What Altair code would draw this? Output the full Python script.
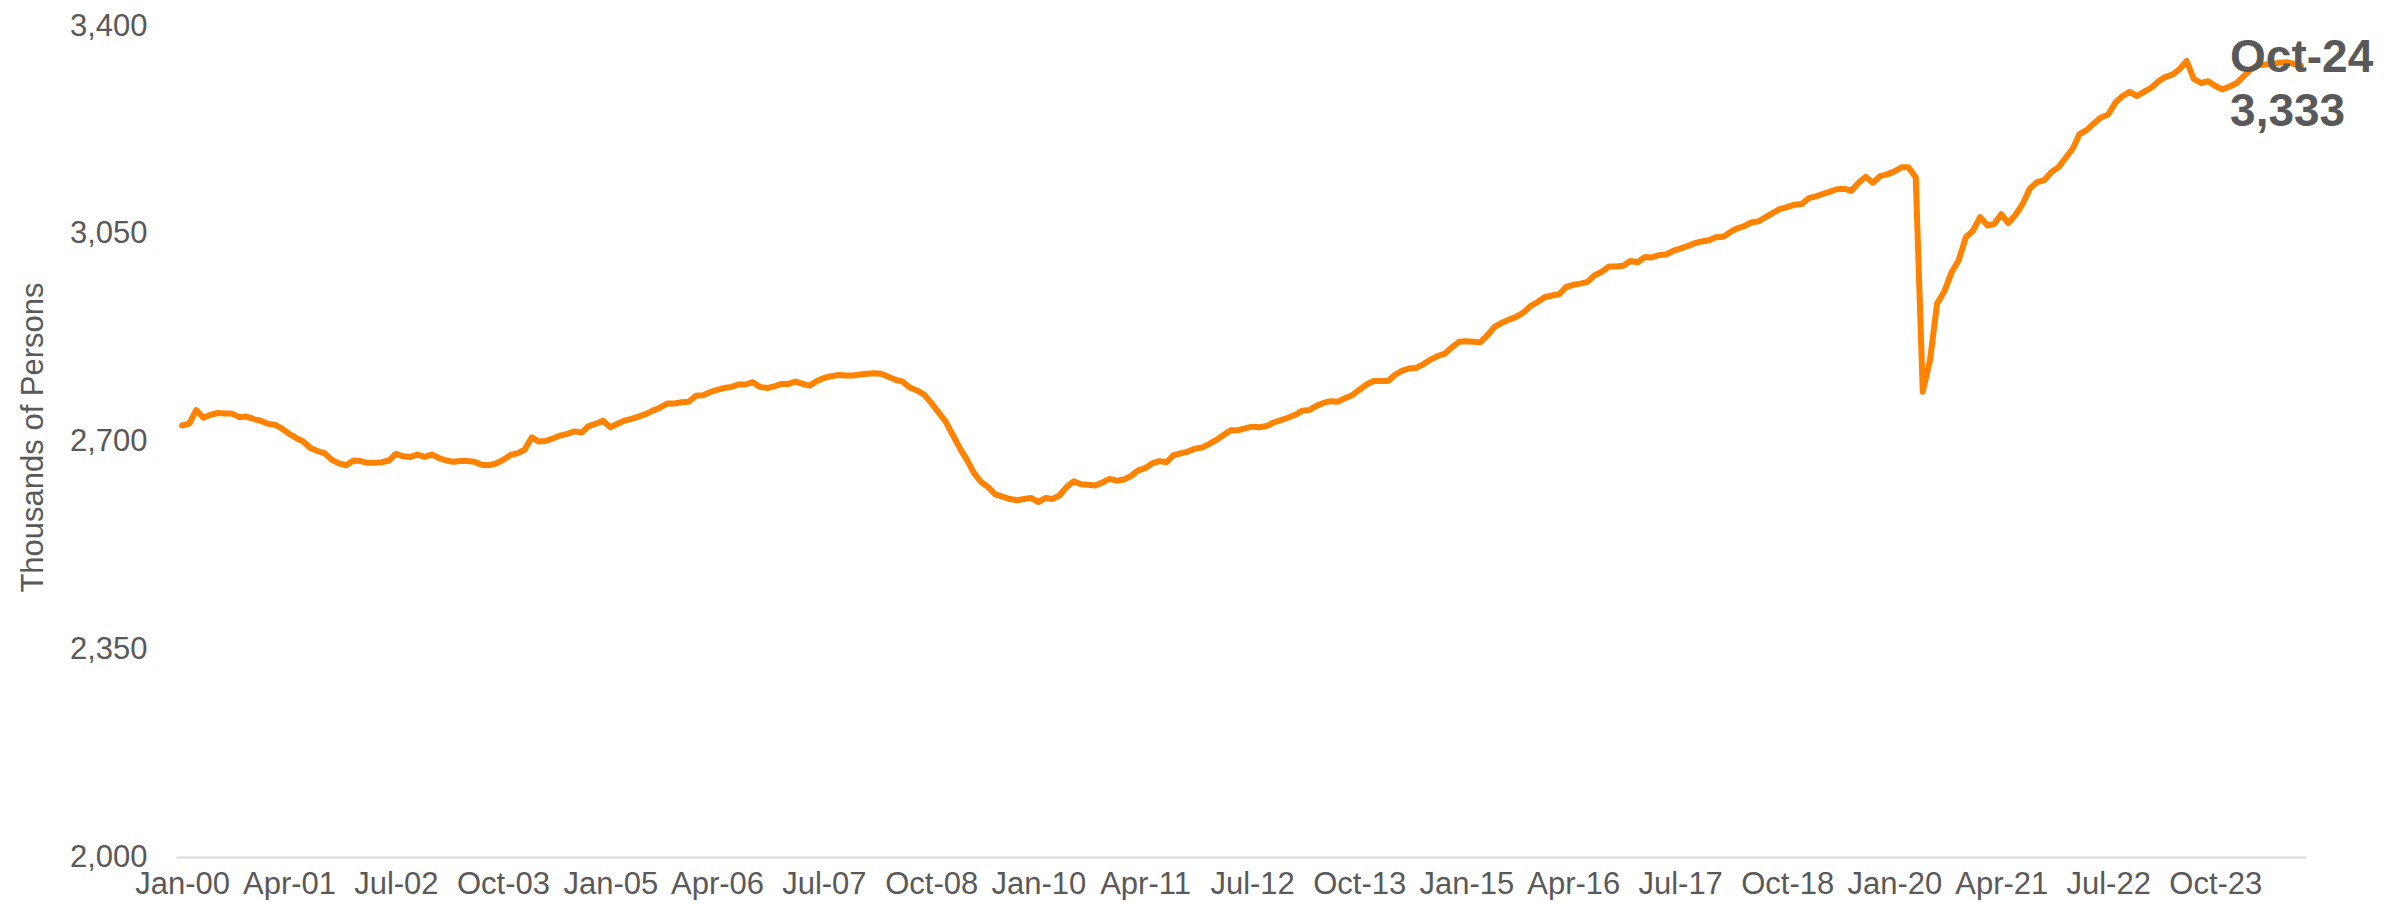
import altair as alt
import pandas as pd

# Monthly values (thousands of persons), Jan-2000 .. Oct-2024
values = [
    2727, 2730, 2753, 2740, 2745, 2748, 2747, 2747, 2741, 2742, 2738, 2735,   # 2000
    2730, 2728, 2722, 2713, 2706, 2700, 2689, 2684, 2680, 2669, 2663, 2660,   # 2001
    2668, 2667, 2664, 2664, 2665, 2668, 2679, 2675, 2674, 2678, 2674, 2678,   # 2002
    2672, 2668, 2666, 2667, 2667, 2666, 2661, 2660, 2663, 2669, 2677, 2680,   # 2003
    2686, 2707, 2700, 2701, 2705, 2710, 2713, 2717, 2715, 2726, 2730, 2735,   # 2004
    2724, 2730, 2735, 2738, 2742, 2746, 2752, 2757, 2764, 2764, 2766, 2767,   # 2005
    2777, 2778, 2783, 2787, 2790, 2792, 2796, 2796, 2800, 2792, 2790, 2793,   # 2006
    2797, 2797, 2801, 2797, 2794, 2802, 2807, 2810, 2812, 2811, 2811, 2813,   # 2007
    2814, 2815, 2814, 2809, 2804, 2801, 2791, 2786, 2779, 2765, 2749, 2734,   # 2008
    2711, 2688, 2670, 2647, 2632, 2623, 2611, 2607, 2603, 2601, 2603, 2605,   # 2009
    2598, 2605, 2603, 2609, 2623, 2633, 2628, 2627, 2626, 2631, 2637, 2634,   # 2010
    2636, 2642, 2651, 2655, 2663, 2667, 2665, 2677, 2680, 2683, 2688, 2690,   # 2011
    2696, 2703, 2711, 2719, 2719, 2722, 2725, 2724, 2726, 2732, 2736, 2740,   # 2012
    2745, 2752, 2753, 2760, 2765, 2768, 2767, 2773, 2778, 2787, 2796, 2802,   # 2013
    2802, 2802, 2812, 2819, 2823, 2824, 2830, 2838, 2844, 2848, 2859, 2868,   # 2014
    2869, 2868, 2867, 2879, 2893, 2900, 2905, 2910, 2917, 2928, 2935, 2943,   # 2015
    2946, 2948, 2960, 2964, 2966, 2969, 2980, 2986, 2995, 2995, 2996, 3004,   # 2016
    3002, 3011, 3010, 3014, 3015, 3021, 3025, 3029, 3034, 3037, 3039, 3044,   # 2017
    3045, 3053, 3059, 3063, 3069, 3071, 3078, 3085, 3092, 3095, 3099, 3100,   # 2018
    3110, 3113, 3117, 3121, 3125, 3126, 3122, 3136, 3146, 3136, 3147, 3150,   # 2019
    3155, 3162, 3162, 3145, 2784, 2837, 2932, 2953, 2985, 3005, 3044, 3055,   # 2020
    3078, 3064, 3066, 3083, 3068, 3082, 3100, 3126, 3137, 3140, 3154, 3162,   # 2021
    3178, 3194, 3218, 3225, 3236, 3246, 3251, 3271, 3282, 3289, 3282, 3289,   # 2022
    3296, 3307, 3314, 3318, 3327, 3341, 3311, 3304, 3307, 3299, 3293, 3298,   # 2023
    3304, 3316, 3327, 3334, 3335, 3336, 3338, 3339, 3336, 3333,               # 2024
]
start_month = "2000-01-01"
dates = pd.date_range(start_month, periods=len(values), freq="MS")

tick_dates = list(pd.date_range(start_month, periods=20, freq="15MS"))
y_ticks = [2000, 2350, 2700, 3050, 3400]
y_title = "Thousands of Persons"

df = pd.DataFrame({"date": dates, "value": values})
last = df.tail(1)

FONT = "Liberation Sans"
GREY = "#595959"
ORANGE = "#FF8200"

x_scale = alt.Scale(domain=["1999-12-06", "2024-10-22"], nice=False)
y_scale = alt.Scale(domain=[2000, 3400], nice=False, zero=False)

line = alt.Chart(df).mark_line(
    color=ORANGE, strokeWidth=6, strokeJoin="round", strokeCap="round"
).encode(
    x=alt.X(
        "date:T",
        scale=x_scale,
        axis=alt.Axis(
            values=[d.strftime("%Y-%m-%d") for d in tick_dates],
            format="%b-%y",
            title=None,
            grid=False,
            ticks=False,
            tickSize=0,
            domain=True,
            domainColor="#d9d9d9",
            domainWidth=2,
            labelFont=FONT,
            labelFontSize=31,
            labelColor=GREY,
            labelBaseline="alphabetic",
            labelPadding=36,
            labelOverlap=False,
            labelFlush=False,
        ),
    ),
    y=alt.Y(
        "value:Q",
        scale=y_scale,
        axis=alt.Axis(
            values=y_ticks,
            format=",.0f",
            title=y_title,
            grid=False,
            ticks=False,
            tickSize=0,
            domain=False,
            labelFont=FONT,
            labelFontSize=31,
            labelColor=GREY,
            labelPadding=29,
            titleFont=FONT,
            titleFontSize=31,
            titleFontWeight="normal",
            titleColor=GREY,
            titleAngle=270,
            titleBaseline="alphabetic",
            titleAlign="center",
            titleX=-134,
            titleY=411,
        ),
    ),
)

label_date = alt.Chart(last).mark_text(
    align="left", baseline="alphabetic", dx=-71, dy=6,
    font=FONT, fontSize=46, fontWeight="bold", color=GREY,
).encode(
    x=alt.X("date:T", scale=x_scale),
    y=alt.Y("value:Q", scale=y_scale),
    text=alt.Text("date:T", format="%b-%y"),
)

label_value = alt.Chart(last).mark_text(
    align="left", baseline="alphabetic", dx=-71, dy=60,
    font=FONT, fontSize=46, fontWeight="bold", color=GREY,
).encode(
    x=alt.X("date:T", scale=x_scale),
    y=alt.Y("value:Q", scale=y_scale),
    text=alt.Text("value:Q", format=",.0f"),
)

chart = alt.layer(line, label_date, label_value).properties(
    width=2130,
    height=831,
    autosize=alt.AutoSizeParams(type="none"),
    padding={"left": 168, "top": 18, "right": 88, "bottom": 43},
    background="white",
).configure_view(stroke=None)

chart.save("out.html", embed_options={"renderer": "svg", "actions": False})
